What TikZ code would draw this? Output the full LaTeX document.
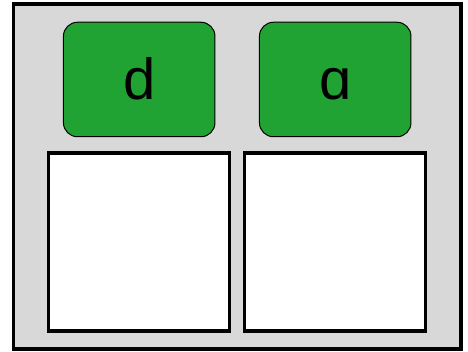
\documentclass[tikz,border=0pt]{standalone}
\usepackage{fontspec}
\setmainfont{Liberation Sans}
\usetikzlibrary{positioning}
\definecolor{keygreen}{RGB}{33,163,51}
\definecolor{framegray}{RGB}{216,216,216}

\begin{document}
\begin{tikzpicture}[node distance=162.5pt and 196pt, on grid, key/.style={draw, black, fill=keygreen, rounded corners=14pt, line width=1pt, minimum width=151.5pt, minimum height=114.5pt, inner sep=0pt, text height=40.5pt, text depth=0pt, font=\fontsize{58}{60}\selectfont}, slot/.style={draw, black, fill=white, line width=3.5pt, minimum width=181pt, minimum height=178pt, inner sep=0pt}]
	\useasboundingbox (0,0) rectangle (468pt,-352pt);
	\node[draw, black, fill=framegray, line width=3.5pt, minimum width=447.5pt, minimum height=345pt] (frame) at (237.2pt,-176.5pt) {};
	\node[key] (D) at (139.2pt,-79.5pt) {d};
	\node[key] (A) [right= of D] {ɑ};
	\node[slot] (S1) [below= of D] {};
	\node[slot] (S2) [below= of A] {};
	
	\end{tikzpicture}
\end{document}
